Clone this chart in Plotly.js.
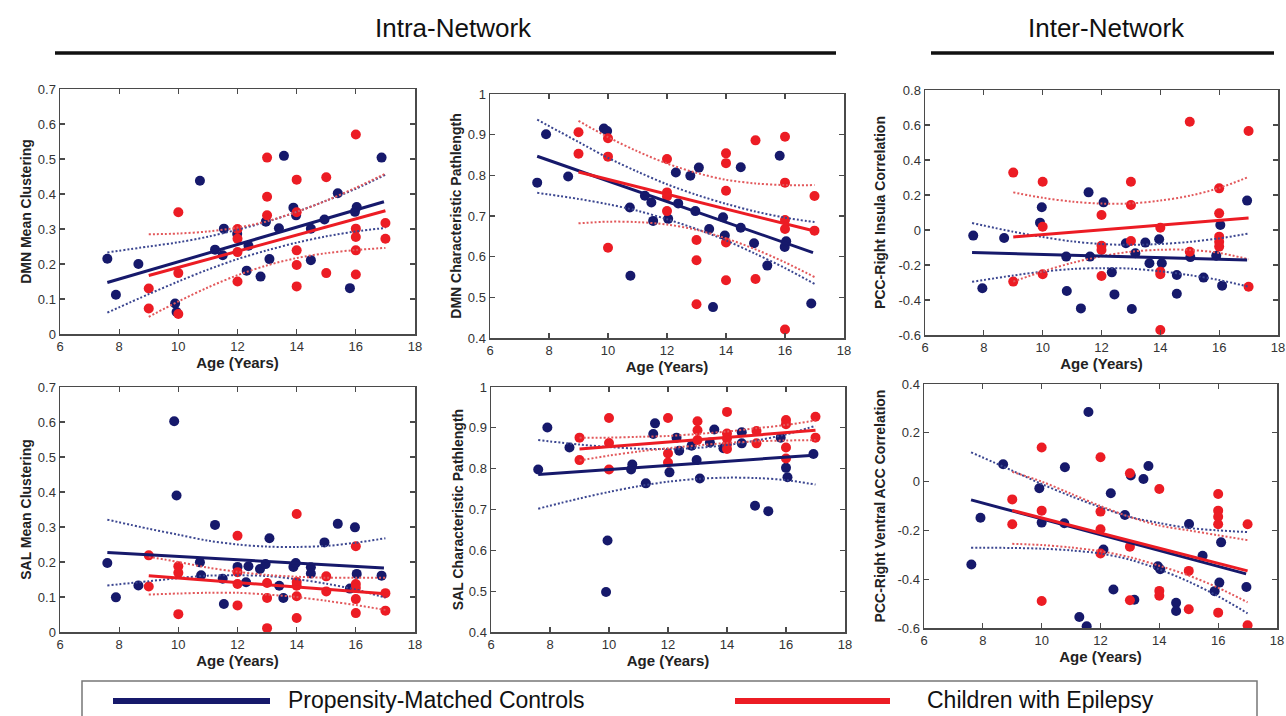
<!DOCTYPE html>
<html>
<head>
<meta charset="utf-8">
<script src="https://cdn.plot.ly/plotly-3.0.1.min.js"></script>
<style>html,body{margin:0;padding:0;background:#fff;}#chart{width:1286px;height:716px;}</style>
</head>
<body>
<div id="chart"></div>
<script>
// ---------- DATA ----------
const yTitles = ['DMN Mean Clustering','DMN Characteristic Pathlength','PCC-Right Insula Correlation',
                 'SAL Mean Clustering','SAL Characteristic Pathlength','PCC-Right Ventral ACC Correlation'];
const headerLabels = ['Intra-Network','Inter-Network'];
const seriesNames = ['Propensity-Matched Controls','Children with Epilepsy'];
const xTickVals = [6,8,10,12,14,16,18];

// Panel 1: DMN Mean Clustering
const ctrlAge1 = [7.6,7.89,8.65,9.89,9.94,10.73,11.24,11.5,11.54,11.99,12.31,12.37,12.78,12.96,13.08,13.4,13.57,13.89,13.98,14.48,14.48,14.94,15.39,15.8,15.97,16.03,16.87];
const ctrlVal1 = [0.215,0.112,0.2,0.087,0.063,0.438,0.241,0.225,0.301,0.286,0.181,0.252,0.164,0.321,0.214,0.302,0.509,0.361,0.339,0.301,0.211,0.327,0.402,0.131,0.349,0.363,0.504];
const epiAge1 = [9,9,10,10,10,12,12,12,12,13,13,13,14,14,14,14,14,15,15,16,16,16,16,16,17,17];
const epiVal1 = [0.13,0.073,0.348,0.174,0.057,0.3,0.272,0.234,0.15,0.504,0.392,0.339,0.441,0.348,0.239,0.197,0.136,0.448,0.174,0.57,0.301,0.277,0.239,0.17,0.317,0.272];
const ctrlFit1 = [0.147,0.378];
const epiFit1 = [0.167,0.352];
const ctrlUp1 = [0.233,0.25,0.262,0.278,0.298,0.321,0.349,0.381,0.415,0.455];
const ctrlLo1 = [0.061,0.114,0.15,0.184,0.214,0.239,0.261,0.279,0.293,0.303];
const epiUp1 = [0.285,0.287,0.293,0.304,0.322,0.349,0.381,0.418,0.458];
const epiLo1 = [0.049,0.093,0.133,0.168,0.196,0.217,0.231,0.24,0.246];

// Panel 2: DMN Characteristic Pathlength
const ctrlAge2 = [7.6,7.9,8.65,9.86,9.97,10.74,10.76,11.25,11.47,11.53,12.04,12.3,12.38,12.79,12.96,13.08,13.43,13.56,13.9,13.96,14.5,14.5,14.95,15.4,15.82,15.99,16.04,16.89];
const ctrlVal2 = [0.782,0.901,0.797,0.915,0.909,0.721,0.553,0.75,0.733,0.688,0.693,0.807,0.731,0.799,0.712,0.819,0.668,0.476,0.697,0.652,0.82,0.671,0.633,0.578,0.848,0.624,0.638,0.485];
const epiAge2 = [9,9,10,10,10,12,12,12,12,13,13,13,14,14,14,14,14,15,15,16,16,16,16,16,17,17];
const epiVal2 = [0.906,0.853,0.891,0.846,0.622,0.84,0.758,0.748,0.712,0.641,0.591,0.483,0.854,0.83,0.762,0.635,0.542,0.886,0.545,0.895,0.782,0.69,0.668,0.421,0.749,0.664];
const ctrlFit2 = [0.847,0.61];
const epiFit2 = [0.808,0.663];
const ctrlUp2 = [0.937,0.882,0.843,0.809,0.778,0.752,0.73,0.711,0.696,0.685];
const ctrlLo2 = [0.757,0.742,0.729,0.713,0.692,0.668,0.64,0.607,0.572,0.533];
const epiUp2 = [0.934,0.894,0.859,0.829,0.806,0.789,0.78,0.776,0.776];
const epiLo2 = [0.682,0.686,0.685,0.679,0.666,0.645,0.618,0.586,0.55];

// Panel 3: PCC-Right Insula Correlation
const ctrlAge3 = [7.64,7.95,8.69,9.91,9.97,10.8,10.82,11.3,11.56,11.61,12.07,12.35,12.44,12.83,13.03,13.15,13.49,13.63,13.96,14.05,14.56,14.56,15.02,15.47,15.9,16.04,16.1,16.95];
const ctrlVal3 = [-0.032,-0.333,-0.046,0.042,0.13,-0.152,-0.349,-0.448,0.215,-0.152,0.158,-0.242,-0.368,-0.076,-0.451,-0.133,-0.072,-0.19,-0.053,-0.19,-0.257,-0.364,-0.155,-0.272,-0.147,0.029,-0.318,0.168];
const epiAge3 = [9,9,10,10,10,12,12,12,12,13,13,13,14,14,14,14,15,15,16,16,16,16,16,17,17];
const epiVal3 = [0.328,-0.295,0.276,0.019,-0.253,0.086,-0.09,-0.114,-0.263,0.276,0.143,-0.063,0.013,-0.238,-0.253,-0.571,0.619,-0.124,0.238,0.095,-0.038,-0.067,-0.095,0.566,-0.324];
const ctrlFit3 = [-0.128,-0.172];
const epiFit3 = [-0.04,0.068];
const ctrlUp3 = [0.04,-0.01,-0.04,-0.065,-0.08,-0.085,-0.08,-0.068,-0.048,-0.02];
const ctrlLo3 = [-0.296,-0.26,-0.238,-0.223,-0.218,-0.221,-0.236,-0.258,-0.286,-0.324];
const epiUp3 = [0.215,0.184,0.162,0.151,0.152,0.168,0.196,0.24,0.303];
const epiLo3 = [-0.295,-0.237,-0.188,-0.15,-0.124,-0.113,-0.114,-0.131,-0.167];

// Panel 4: SAL Mean Clustering
const ctrlAge4 = [7.6,7.89,8.65,9.86,9.94,10.73,10.77,11.24,11.5,11.54,12.0,12.29,12.37,12.76,12.95,13.08,13.41,13.55,13.89,13.97,14.48,14.48,14.94,15.39,15.8,15.97,16.03,16.87];
const ctrlVal4 = [0.197,0.099,0.133,0.602,0.39,0.199,0.162,0.306,0.152,0.08,0.186,0.142,0.188,0.18,0.194,0.268,0.132,0.097,0.186,0.197,0.185,0.167,0.256,0.309,0.124,0.299,0.166,0.161];
const epiAge4 = [9,9,10,10,10,12,12,12,12,13,13,13,14,14,14,14,14,15,15,16,16,16,16,16,17,17];
const epiVal4 = [0.219,0.13,0.188,0.169,0.051,0.275,0.171,0.137,0.076,0.14,0.097,0.011,0.337,0.143,0.132,0.102,0.04,0.159,0.116,0.245,0.137,0.126,0.094,0.054,0.111,0.061];
const ctrlFit4 = [0.227,0.183];
const epiFit4 = [0.161,0.109];
const ctrlUp4 = [0.321,0.295,0.278,0.261,0.25,0.244,0.243,0.246,0.255,0.268];
const ctrlLo4 = [0.133,0.145,0.154,0.161,0.162,0.16,0.151,0.138,0.121,0.098];
const epiUp4 = [0.215,0.2,0.184,0.172,0.163,0.158,0.155,0.155,0.155];
const epiLo4 = [0.107,0.11,0.112,0.112,0.107,0.1,0.089,0.077,0.063];

// Panel 5: SAL Characteristic Pathlength
const ctrlAge5 = [7.6,7.91,8.66,9.9,9.95,10.75,10.79,11.25,11.5,11.56,12.05,12.29,12.38,12.8,12.97,13.08,13.42,13.57,13.88,14.5,14.5,14.95,15.4,15.82,16.0,16.05,16.93];
const ctrlVal5 = [0.798,0.901,0.852,0.498,0.624,0.798,0.81,0.764,0.885,0.911,0.791,0.876,0.844,0.856,0.821,0.776,0.864,0.896,0.85,0.889,0.862,0.709,0.696,0.876,0.802,0.779,0.836];
const epiAge5 = [9,9,10,10,10,12,12,12,13,13,13,14,14,14,14,14,15,15,16,16,16,16,17,17];
const epiVal5 = [0.876,0.821,0.924,0.863,0.798,0.924,0.837,0.815,0.916,0.894,0.87,0.939,0.886,0.874,0.86,0.848,0.892,0.862,0.919,0.909,0.852,0.825,0.927,0.876];
const ctrlFit5 = [0.786,0.833];
const epiFit5 = [0.848,0.894];
const ctrlUp5 = [0.87,0.859,0.853,0.849,0.848,0.851,0.858,0.869,0.884,0.905];
const ctrlLo5 = [0.702,0.727,0.743,0.757,0.768,0.775,0.778,0.777,0.772,0.761];
const epiUp5 = [0.876,0.876,0.878,0.88,0.885,0.891,0.899,0.907,0.918];
const epiLo5 = [0.82,0.832,0.842,0.85,0.857,0.863,0.867,0.869,0.87];

// Panel 6: PCC-Right Ventral ACC Correlation
const ctrlAge6 = [7.61,7.92,8.69,9.92,10.0,10.79,10.77,11.28,11.59,11.53,12.1,12.35,12.44,12.83,13.03,13.15,13.46,13.63,13.95,14.03,14.57,14.57,15.01,15.47,15.88,16.04,16.1,16.96];
const ctrlVal6 = [-0.34,-0.148,0.071,-0.027,-0.168,0.059,-0.171,-0.555,0.285,-0.593,-0.278,-0.048,-0.442,-0.137,0.025,-0.484,0.011,0.064,-0.347,-0.359,-0.497,-0.53,-0.174,-0.304,-0.449,-0.414,-0.249,-0.432];
const epiAge6 = [9,9,10,10,10,12,12,12,12,13,13,13,14,14,14,15,15,16,16,16,16,16,17,17];
const epiVal6 = [-0.073,-0.175,0.14,-0.119,-0.489,0.1,-0.123,-0.195,-0.295,0.034,-0.267,-0.486,-0.03,-0.448,-0.468,-0.366,-0.523,-0.051,-0.119,-0.144,-0.175,-0.537,-0.175,-0.589];
const ctrlFit6 = [-0.075,-0.378];
const epiFit6 = [-0.118,-0.366];
const ctrlUp6 = [0.12,0.045,-0.01,-0.06,-0.105,-0.145,-0.17,-0.19,-0.2,-0.207];
const ctrlLo6 = [-0.271,-0.272,-0.275,-0.282,-0.295,-0.32,-0.36,-0.41,-0.47,-0.54];
const epiUp6 = [0.04,0.0,-0.05,-0.1,-0.145,-0.18,-0.2,-0.22,-0.24];
const epiLo6 = [-0.255,-0.26,-0.27,-0.285,-0.31,-0.345,-0.385,-0.435,-0.495];

// shared x positions for fits and confidence bands
const ctrlFitAge = [7.6,16.95];
const epiFitAge = [9,17];
const ctrlBandAge = [7.6,9,10,11,12,13,14,15,16,17];
const epiBandAge = [9,10,11,12,13,14,15,16,17];

// y ticks per panel
const yTicks1 = [0,0.1,0.2,0.3,0.4,0.5,0.6,0.7];
const yTicks2 = [0.4,0.5,0.6,0.7,0.8,0.9,1];
const yTicks3 = [-0.6,-0.4,-0.2,0,0.2,0.4,0.6,0.8];
const yTicks4 = [0,0.1,0.2,0.3,0.4,0.5,0.6,0.7];
const yTicks5 = [0.4,0.5,0.6,0.7,0.8,0.9,1];
const yTicks6 = [-0.6,-0.4,-0.2,0,0.2,0.4];

// ---------- STYLE / LAYOUT ----------
const W = 1286, H = 716;
const FONT = 'Liberation Sans, Arial, Helvetica, sans-serif';
const NAVY = '#16196b', RED = '#ec1c24';
const NAVY_DOT = '#3b4690', RED_DOT = '#e2585b';

const panels = [
  {ctrlAge:ctrlAge1, ctrlVal:ctrlVal1, epiAge:epiAge1, epiVal:epiVal1, cf:ctrlFit1, ef:epiFit1, cu:ctrlUp1, cl:ctrlLo1, eu:epiUp1, el:epiLo1, ticks:yTicks1, box:[60,415,89,334], so:3},
  {ctrlAge:ctrlAge2, ctrlVal:ctrlVal2, epiAge:epiAge2, epiVal:epiVal2, cf:ctrlFit2, ef:epiFit2, cu:ctrlUp2, cl:ctrlLo2, eu:epiUp2, el:epiLo2, ticks:yTicks2, box:[490,844,94,338], so:3},
  {ctrlAge:ctrlAge3, ctrlVal:ctrlVal3, epiAge:epiAge3, epiVal:epiVal3, cf:ctrlFit3, ef:epiFit3, cu:ctrlUp3, cl:ctrlLo3, eu:epiUp3, el:epiLo3, ticks:yTicks3, box:[925,1278,90,335], so:9},
  {ctrlAge:ctrlAge4, ctrlVal:ctrlVal4, epiAge:epiAge4, epiVal:epiVal4, cf:ctrlFit4, ef:epiFit4, cu:ctrlUp4, cl:ctrlLo4, eu:epiUp4, el:epiLo4, ticks:yTicks4, box:[60,415,387,632], so:3},
  {ctrlAge:ctrlAge5, ctrlVal:ctrlVal5, epiAge:epiAge5, epiVal:epiVal5, cf:ctrlFit5, ef:epiFit5, cu:ctrlUp5, cl:ctrlLo5, eu:epiUp5, el:epiLo5, ticks:yTicks5, box:[491,845,387,632], so:2},
  {ctrlAge:ctrlAge6, ctrlVal:ctrlVal6, epiAge:epiAge6, epiVal:epiVal6, cf:ctrlFit6, ef:epiFit6, cu:ctrlUp6, cl:ctrlLo6, eu:epiUp6, el:epiLo6, ticks:yTicks6, box:[924,1277,384,628], so:8}
];

const fmt = v => (Math.round(v*10)/10).toString();

const traces = [];
const layout = {
  width: W, height: H,
  margin: {l:0, r:0, t:0, b:0},
  paper_bgcolor: '#fff', plot_bgcolor: '#fff',
  showlegend: false,
  font: {family: FONT, color: '#222'},
  shapes: [], annotations: []
};

panels.forEach((p, i) => {
  const n = i + 1;
  const xa = 'x' + (n === 1 ? '' : n), ya = 'y' + (n === 1 ? '' : n);
  const xk = 'xaxis' + (n === 1 ? '' : n), yk = 'yaxis' + (n === 1 ? '' : n);
  const [x0, x1, yt, yb] = p.box;
  const common = {
    showline: true, linecolor: '#4a4a4a', linewidth: 1.5, mirror: 'ticks',
    ticks: 'inside', ticklen: 5, tickwidth: 1.2, tickcolor: '#4a4a4a',
    showgrid: false, zeroline: false, fixedrange: true,
    tickfont: {family: FONT, size: 13, color: '#333'}
  };
  layout[xk] = Object.assign({}, common, {
    domain: [x0 / W, x1 / W], anchor: ya, range: [6, 18],
    tickvals: xTickVals, ticktext: xTickVals.map(String),
    title: {text: '<b>Age (Years)</b>', font: {family: FONT, size: 15, color: '#222'}, standoff: 0}
  });
  layout[yk] = Object.assign({}, common, {
    domain: [1 - yb / H, 1 - yt / H], anchor: xa,
    range: [p.ticks[0], p.ticks[p.ticks.length - 1]],
    tickvals: p.ticks, ticktext: p.ticks.map(fmt),
    title: {text: '<b>' + yTitles[i] + '</b>', font: {family: FONT, size: 14, color: '#222'}, standoff: p.so}
  });
  // points
  traces.push({x: p.ctrlAge, y: p.ctrlVal, xaxis: xa, yaxis: ya, type: 'scatter', mode: 'markers',
    marker: {color: NAVY, size: 10}, name: seriesNames[0], hoverinfo: 'x+y'});
  traces.push({x: p.epiAge, y: p.epiVal, xaxis: xa, yaxis: ya, type: 'scatter', mode: 'markers',
    marker: {color: RED, size: 10}, name: seriesNames[1], hoverinfo: 'x+y'});
  // confidence bands (dotted)
  [[ctrlBandAge, p.cu, NAVY_DOT], [ctrlBandAge, p.cl, NAVY_DOT], [epiBandAge, p.eu, RED_DOT], [epiBandAge, p.el, RED_DOT]]
    .forEach(([xs, ys, c]) => traces.push({x: xs, y: ys, xaxis: xa, yaxis: ya, type: 'scatter', mode: 'lines',
      line: {color: c, width: 2, dash: '2px,2px', shape: 'spline', smoothing: 0.9}, hoverinfo: 'skip'}));
  // fit lines
  traces.push({x: ctrlFitAge, y: p.cf, xaxis: xa, yaxis: ya, type: 'scatter', mode: 'lines',
    line: {color: NAVY, width: 3}, hoverinfo: 'skip'});
  traces.push({x: epiFitAge, y: p.ef, xaxis: xa, yaxis: ya, type: 'scatter', mode: 'lines',
    line: {color: RED, width: 3}, hoverinfo: 'skip'});
});

// headers
layout.annotations.push({text: headerLabels[0], x: 453 / W, y: 1 - 28 / H, xref: 'paper', yref: 'paper',
  showarrow: false, xanchor: 'center', yanchor: 'middle', font: {family: FONT, size: 26, color: '#111'}});
layout.annotations.push({text: headerLabels[1], x: 1106 / W, y: 1 - 28 / H, xref: 'paper', yref: 'paper',
  showarrow: false, xanchor: 'center', yanchor: 'middle', font: {family: FONT, size: 26, color: '#111'}});
layout.shapes.push({type: 'line', xref: 'paper', yref: 'paper', x0: 55 / W, x1: 836 / W, y0: 1 - 53 / H, y1: 1 - 53 / H,
  line: {color: '#111', width: 3.5}});
layout.shapes.push({type: 'line', xref: 'paper', yref: 'paper', x0: 931 / W, x1: 1274 / W, y0: 1 - 53 / H, y1: 1 - 53 / H,
  line: {color: '#111', width: 3.5}});

// legend box
layout.shapes.push({type: 'rect', xref: 'paper', yref: 'paper', x0: 82 / W, x1: 1257 / W, y0: -0.05, y1: 1 - 681 / H,
  line: {color: '#777', width: 1.5}, fillcolor: 'rgba(0,0,0,0)'});
layout.shapes.push({type: 'line', xref: 'paper', yref: 'paper', x0: 113 / W, x1: 270 / W, y0: 1 - 701 / H, y1: 1 - 701 / H,
  line: {color: NAVY, width: 6}});
layout.shapes.push({type: 'line', xref: 'paper', yref: 'paper', x0: 735 / W, x1: 890 / W, y0: 1 - 701 / H, y1: 1 - 701 / H,
  line: {color: RED, width: 6}});
layout.annotations.push({text: seriesNames[0], x: 286 / W, y: 1 - 700 / H, xref: 'paper', yref: 'paper',
  showarrow: false, xanchor: 'left', yanchor: 'middle', font: {family: FONT, size: 23, color: '#111'}});
layout.annotations.push({text: seriesNames[1], x: 925 / W, y: 1 - 700 / H, xref: 'paper', yref: 'paper',
  showarrow: false, xanchor: 'left', yanchor: 'middle', font: {family: FONT, size: 23, color: '#111'}});

Plotly.newPlot('chart', traces, layout, {displayModeBar: false, staticPlot: true});
</script>
</body>
</html>
